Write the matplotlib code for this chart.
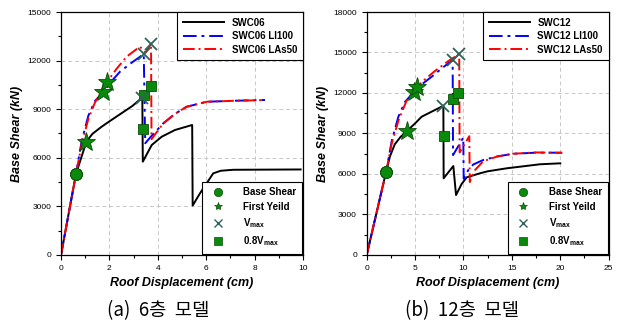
import matplotlib

matplotlib.use("Agg")
import matplotlib.pyplot as plt
from matplotlib.lines import Line2D
from matplotlib.ticker import MultipleLocator

plt.rcParams["font.family"] = ["Liberation Sans", "DejaVu Sans"]

# ---- (a) 6-storey model ----
a_swc_x = [0, 0.62, 1.05, 1.3, 1.68, 2.1, 2.5, 2.95, 3.36, 3.38, 3.75, 4.16, 4.71, 5.42,
           5.44, 5.74, 6.29, 6.6, 7.12, 9.9]
a_swc_y = [0, 5000, 7000, 7480, 7920, 8350, 8750, 9200, 9720, 5760, 6790, 7300, 7716, 8025,
           3050, 3800, 5040, 5200, 5260, 5280]
a_li_x = [0, 0.62, 0.85, 1.13, 1.4, 1.75, 2.1, 2.44, 2.9, 3.42, 3.48, 3.8, 4.23, 4.7, 5.19,
          6.02, 7.26, 8.43]
a_li_y = [0, 5000, 7000, 8600, 9500, 10080, 10750, 11320, 11850, 12400, 6900, 7450, 8130,
          8700, 9150, 9460, 9525, 9570]
a_las_x = [0, 0.62, 0.85, 1.13, 1.4, 1.91, 2.3, 2.71, 3.26, 3.5, 3.72, 3.74, 4.23, 4.7,
           5.19, 6.02, 7.26, 8.4]
a_las_y = [0, 5000, 6800, 8400, 9400, 10700, 11500, 12240, 12860, 12500, 13050, 7150, 8130,
           8700, 9150, 9460, 9525, 9560]
a_base = [(0.62, 5000), (0.62, 5000), (0.62, 5000)]
a_yield = [(1.05, 7000), (1.75, 10080), (1.91, 10700)]
a_vmax = [(3.36, 9720), (3.42, 12400), (3.72, 13050)]
a_v08 = [(3.37, 7760), (3.45, 9900), (3.72, 10450)]

# ---- (b) 12-storey model ----
b_swc_x = [0, 2.0, 2.4, 2.9, 3.5, 4.2, 5.0, 5.67, 6.8, 7.92, 7.95, 8.95, 9.23, 9.8, 10.33,
           11.0, 11.7, 12.5, 14.45, 17.9, 20.0]
b_swc_y = [0, 6150, 7300, 8200, 8750, 9210, 9750, 10240, 10650, 11050, 5680, 6590, 4440,
           5250, 5750, 5900, 6050, 6200, 6420, 6720, 6790]
b_li_x = [0, 2.0, 2.6, 3.27, 3.96, 4.92, 5.8, 6.7, 7.8, 8.88, 8.92, 9.98, 10.02, 10.5, 11.0,
          12.05, 13.5, 15.14, 17.5, 20.2]
b_li_y = [0, 6150, 8500, 10240, 11350, 12100, 12700, 13200, 13850, 14440, 7400, 8700, 5650,
          6300, 6700, 7040, 7300, 7500, 7580, 7580]
b_las_x = [0, 2.0, 2.6, 3.3, 4.1, 5.16, 6.0, 7.0, 8.3, 9.56, 9.6, 10.6, 10.65, 11.2, 12.05,
           13.5, 15.14, 17.5, 20.2]
b_las_y = [0, 6150, 8300, 10000, 11400, 12420, 13000, 13600, 14300, 14890, 7600, 8800, 5400,
           6300, 6950, 7300, 7500, 7600, 7560]
b_base = [(2.0, 6150), (2.0, 6150), (2.0, 6150)]
b_yield = [(4.2, 9210), (4.92, 12100), (5.16, 12420)]
b_vmax = [(7.92, 11050), (8.88, 14440), (9.56, 14890)]
b_v08 = [(7.95, 8815), (8.88, 11530), (9.47, 11980)]

marker_labels = ["Base Shear", "First Yeild", r"V$_{\mathregular{max}}$",
                 r"0.8V$_{\mathregular{max}}$"]

GREEN = "#0a8a0a"
EDGE = "#0b4d0b"
XCOL = "#2e6458"
BLUE_LS = (0, (7, 2.5, 1.5, 2.5))
RED_LS = (0, (6, 2, 1, 2))


def panel(ax, tag, curves, base, yld, vmax, v08, xmax, xmaj, ymax):
    (sx, sy), (lx, ly), (rx, ry) = curves
    ax.plot(sx, sy, color="black", lw=1.4, label=f"SWC{tag}", zorder=2)
    ax.plot(lx, ly, color="#0000ff", lw=1.4, ls=BLUE_LS, label=f"SWC{tag} LI100", zorder=2)
    ax.plot(rx, ry, color="#ff0000", lw=1.4, ls=RED_LS, label=f"SWC{tag} LAs50", zorder=2)
    for x, y in base:
        ax.plot(x, y, "o", ms=8.5, color=GREEN, mec=EDGE, mew=0.6, zorder=4)
    for x, y in yld:
        ax.plot(x, y, "*", ms=14, color=GREEN, mec=EDGE, mew=0.6, zorder=4)
    for x, y in vmax:
        ax.plot(x, y, "x", ms=9, color=XCOL, mew=1.3, zorder=5)
    for x, y in v08:
        ax.plot(x, y, "s", ms=6.5, color=GREEN, mec=EDGE, mew=0.6, zorder=4)

    ax.set_xlim(0, xmax)
    ax.set_ylim(0, ymax)
    ax.xaxis.set_major_locator(MultipleLocator(xmaj))
    ax.xaxis.set_minor_locator(MultipleLocator(xmaj / 2))
    ax.yaxis.set_major_locator(MultipleLocator(3000))
    ax.yaxis.set_minor_locator(MultipleLocator(1500))
    ax.tick_params(which="major", labelsize=6, length=3.5, width=0.8)
    ax.tick_params(which="minor", length=2, width=0.8)
    ax.grid(which="major", ls=(0, (4, 3)), color="#c8c8c8", lw=0.7)
    for s in ax.spines.values():
        s.set_linewidth(0.9)
    ax.set_xlabel("Roof Displacement (cm)", fontsize=9, fontweight="bold", style="italic")
    ax.set_ylabel("Base Shear (kN)", fontsize=9, fontweight="bold", style="italic")
    ax.xaxis.set_label_coords(0.5, -0.09)
    ax.yaxis.set_label_coords(-0.155, 0.5)

    # line legend, top right
    leg1 = ax.legend(loc="upper right", bbox_to_anchor=(1.0, 1.0),
                     prop={"weight": "bold", "size": 7}, handlelength=4.2,
                     fancybox=False, edgecolor="black", framealpha=1,
                     borderaxespad=0.0, labelspacing=0.35, borderpad=0.6)
    leg1.get_frame().set_linewidth(0.8)
    ax.add_artist(leg1)

    # marker legend, bottom right
    handles = [
        Line2D([], [], ls="none", marker="o", ms=6, color=GREEN, mec=EDGE, mew=0.5),
        Line2D([], [], ls="none", marker="*", ms=6, color=GREEN, mec=EDGE, mew=0.5),
        Line2D([], [], ls="none", marker="x", ms=5.5, color=XCOL, mew=1.0),
        Line2D([], [], ls="none", marker="s", ms=5.5, color=GREEN, mec=EDGE, mew=0.5),
    ]
    leg2 = ax.legend(handles, marker_labels, loc="lower right", bbox_to_anchor=(1.0, 0.0),
                     prop={"weight": "bold", "size": 7}, handlelength=2.0,
                     handletextpad=1.6, fancybox=False, edgecolor="black",
                     framealpha=1, borderaxespad=0.1, labelspacing=0.45, borderpad=0.6)
    leg2.get_frame().set_linewidth(0.8)


fig = plt.figure(figsize=(6.23, 3.27), dpi=100)
ax_a = fig.add_axes([0.0979, 0.2202, 0.3885, 0.7431])
ax_b = fig.add_axes([0.5886, 0.2202, 0.3884, 0.7431])

panel(ax_a, "06", [(a_swc_x, a_swc_y), (a_li_x, a_li_y), (a_las_x, a_las_y)],
      a_base, a_yield, a_vmax, a_v08, 10, 2, 15000)
panel(ax_b, "12", [(b_swc_x, b_swc_y), (b_li_x, b_li_y), (b_las_x, b_las_y)],
      b_base, b_yield, b_vmax, b_v08, 25, 5, 18000)

kfont = ["Noto Sans CJK KR", "DejaVu Sans"]
fig.text(158 / 623, 1 - 311 / 327, "(a)  6층  모델", ha="center", va="center",
         fontsize=13.5, family=kfont)
fig.text(462 / 623, 1 - 311 / 327, "(b)  12층  모델", ha="center", va="center",
         fontsize=13.5, family=kfont)

fig.savefig("out.png", dpi=100)
